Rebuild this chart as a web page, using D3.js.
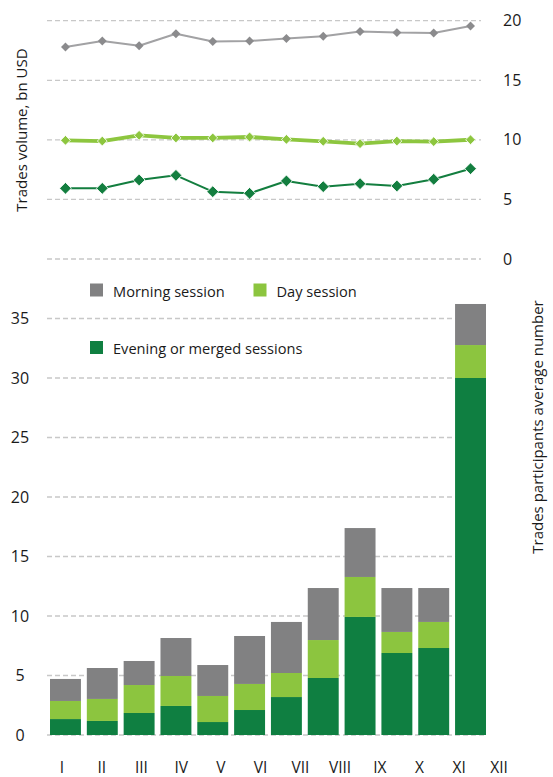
<!DOCTYPE html>
<html>
<head>
<meta charset="utf-8">
<script src="https://cdn.jsdelivr.net/npm/d3@7"></script>
<style>
  html, body { margin: 0; padding: 0; background: #fff; }
  svg { display: block; font-family: "Open Sans", "Noto Sans", sans-serif; }
</style>
</head>
<body>
<svg id="chart" width="553" height="777"></svg>
<script>
// ---- data ----
const months = ["I", "II", "III", "IV", "V", "VI", "VII", "VIII", "IX", "X", "XI", "XII"];

// Top chart: trades volume, bn USD
const volumeMorning = [17.8, 18.3, 17.9, 18.9, 18.25, 18.3, 18.5, 18.7, 19.1, 19.0, 18.97, 19.55];
const volumeDay     = [9.96, 9.9, 10.38, 10.16, 10.16, 10.24, 10.04, 9.88, 9.68, 9.9, 9.85, 10.01];
const volumeEvening = [5.93, 5.93, 6.63, 7.02, 5.65, 5.51, 6.55, 6.07, 6.32, 6.13, 6.69, 7.58];

// Bottom chart: trades participants average number (stacked)
const partEvening = [1.34, 1.18, 1.85, 2.44, 1.09, 2.10, 3.19, 4.79, 9.92, 6.89, 7.31, 30.0];
const partDay     = [1.52, 1.85, 2.35, 2.52, 2.19, 2.19, 2.02, 3.19, 3.36, 1.77, 2.19, 2.77];
const partMorning = [1.85, 2.60, 2.02, 3.19, 2.60, 4.03, 4.29, 4.37, 4.11, 3.69, 2.85, 3.45];

const topTicks = [0, 5, 10, 15, 20];
const bottomTicks = [0, 5, 10, 15, 20, 25, 30, 35];

const legendItems = ["Morning session", "Day session", "Evening or merged sessions"];
const yTitleTop = "Trades volume, bn USD";
const yTitleBottom = "Trades participants average number";

// ---- styles ----
const cGrayBar = "#818182", cLightBar = "#8cc53f", cDarkBar = "#0f7f41";
const cGrayLine = "#a2a2a4", cGrayMark = "#8b8b8d", cLight = "#8dc63f", cDark = "#137e3f";
const gridColor = "#c8c8c8";
const textColor = "#1a1a1a";

const svg = d3.select("#chart");

// ---- scales ----
const x = d3.scaleBand().domain(months).range([50, 486]).paddingInner(0.16).paddingOuter(0);
const xLabel = d3.scalePoint().domain(months).range([62, 499]);
const yTop = d3.scaleLinear().domain([0, 20]).range([259, 20.7]);
const yBot = d3.scaleLinear().domain([0, 35]).range([735, 318.5]);

// ---- top chart grid + axis ----
const gTop = svg.append("g");
gTop.selectAll("line.grid").data(topTicks).join("line")
  .attr("x1", 47).attr("x2", 481)
  .attr("y1", d => yTop(d)).attr("y2", d => yTop(d))
  .attr("stroke", gridColor).attr("stroke-width", 1.3).attr("stroke-dasharray", "5,3");

const axTop = svg.append("g").attr("transform", "translate(503,0)")
  .call(d3.axisRight(yTop).tickValues(topTicks).tickSize(0).tickPadding(0));
axTop.select(".domain").remove();
axTop.selectAll("text").attr("font-size", 16).attr("fill", textColor)
  .attr("font-family", "Open Sans, Noto Sans, sans-serif").attr("text-anchor", "start");

// ---- bottom chart grid ----
const gBot = svg.append("g");
gBot.selectAll("line.grid").data(bottomTicks).join("line")
  .attr("x1", 47).attr("x2", 486)
  .attr("y1", d => yBot(d)).attr("y2", d => yBot(d))
  .attr("stroke", gridColor).attr("stroke-width", 1.3).attr("stroke-dasharray", "5,3");

const axBot = svg.append("g").attr("transform", "translate(20,0)")
  .call(d3.axisLeft(yBot).tickValues(bottomTicks).tickSize(0).tickPadding(0));
axBot.select(".domain").remove();
axBot.selectAll("text").attr("font-size", 16).attr("fill", textColor)
  .attr("font-family", "Open Sans, Noto Sans, sans-serif").attr("text-anchor", "middle");

// ---- stacked bars ----
const rows = months.map((m, i) => ({ month: m, evening: partEvening[i], day: partDay[i], morning: partMorning[i] }));
const stack = d3.stack().keys(["evening", "day", "morning"]);
const series = stack(rows);
const barColors = { evening: cDarkBar, day: cLightBar, morning: cGrayBar };
svg.append("g").selectAll("g").data(series).join("g")
  .attr("fill", s => barColors[s.key])
  .selectAll("rect").data(s => s).join("rect")
  .attr("x", d => x(d.data.month))
  .attr("width", x.bandwidth())
  .attr("y", d => yBot(d[1]))
  .attr("height", d => yBot(d[0]) - yBot(d[1]));

// ---- x labels ----
svg.append("g").selectAll("text").data(months).join("text")
  .attr("x", d => xLabel(d)).attr("y", 773)
  .attr("text-anchor", "middle").attr("font-size", 15.5).attr("fill", textColor)
  .text(d => d);

// ---- lines ----
const cx = m => x(m) + x.bandwidth() / 2;
function drawSeries(vals, lineColor, markColor, lw, markSize, outline) {
  const line = d3.line().x((d, i) => cx(months[i])).y(d => yTop(d));
  svg.append("path").datum(vals).attr("d", line)
    .attr("fill", "none").attr("stroke", lineColor).attr("stroke-width", lw)
    .attr("stroke-linejoin", "round");
  svg.append("g").selectAll("path").data(vals).join("path")
    .attr("d", d3.symbol(d3.symbolSquare, markSize)())
    .attr("transform", (d, i) => `translate(${cx(months[i])},${yTop(d)}) rotate(45)`)
    .attr("fill", markColor)
    .attr("stroke", outline ? "#fff" : "none").attr("stroke-width", outline ? 0.8 : 0);
}
drawSeries(volumeMorning, cGrayLine, cGrayMark, 2, 40, false);
drawSeries(volumeDay, cLight, cLight, 3.8, 48, true);
drawSeries(volumeEvening, cDark, cDark, 2, 70, true);

// ---- legend ----
const legend = svg.append("g");
const legendPos = [[90, 283.5], [253.5, 283.5], [90, 341]];
const legendColors = [cGrayBar, cLightBar, cDarkBar];
legendItems.forEach((t, i) => {
  const [lx, ly] = legendPos[i];
  legend.append("rect").attr("x", lx).attr("y", ly).attr("width", 13).attr("height", 13)
    .attr("fill", legendColors[i]);
  legend.append("text").attr("x", lx + 23).attr("y", ly + 13)
    .attr("font-size", 14.6).attr("fill", textColor).text(t);
});

// ---- axis titles ----
svg.append("text").attr("transform", "translate(26.5,130) rotate(-90)")
  .attr("text-anchor", "middle").attr("font-size", 15).attr("fill", textColor)
  .text(yTitleTop);
svg.append("text").attr("transform", "translate(543,427) rotate(-90)")
  .attr("text-anchor", "middle").attr("font-size", 15).attr("fill", textColor)
  .text(yTitleBottom);
</script>
</body>
</html>
